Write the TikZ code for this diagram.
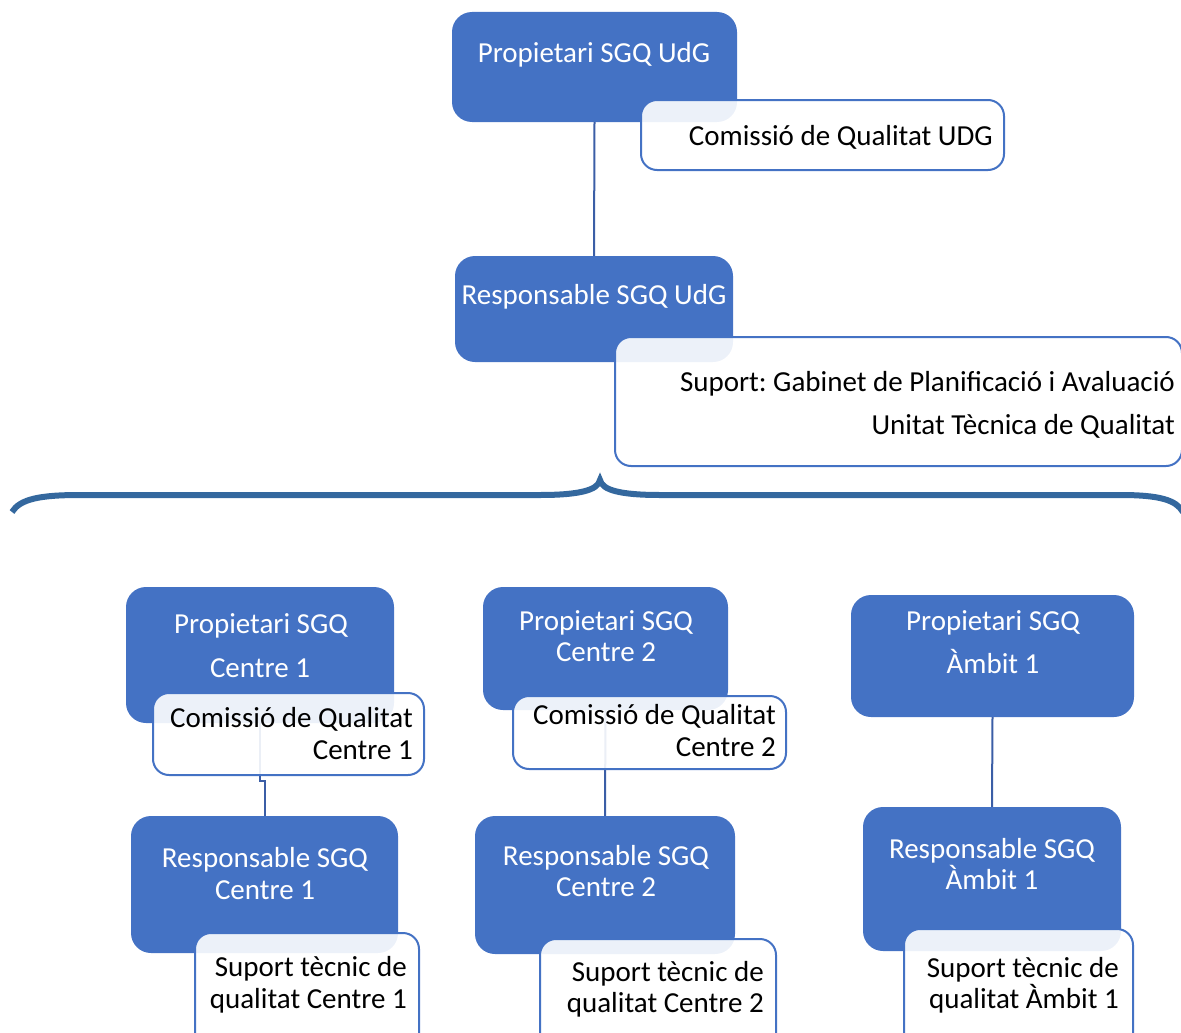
\documentclass[tikz,border=0pt]{standalone}
\usepackage{fontspec}
\setmainfont{Carlito}
\frenchspacing
\definecolor{sgqblue}{HTML}{4472C4}
\definecolor{connblue}{HTML}{3B5EA6}
\definecolor{braceblue}{HTML}{34689E}
\tikzset{
  ownerbox/.style={fill=sgqblue, rounded corners=20, inner sep=0},
  supbox/.style={draw=sgqblue, line width=2, fill=white, fill opacity=0.9, rounded corners=16, inner sep=0},
  wtext/.style={text=white, font=\fontsize{29}{35}\selectfont, inner sep=0, anchor=base},
  btext/.style={text=black, font=\fontsize{29}{35}\selectfont, inner sep=0, anchor=base east},
  conn/.style={draw=connblue, line width=2},
}
\begin{document}
\begin{tikzpicture}[x=1pt,y=-1pt]
\useasboundingbox (0,0) rectangle (1181,1033);

% blue boxes
\node[ownerbox, minimum width=285, minimum height=110] (propudg) at (594.5,67) {};
\node[ownerbox, minimum width=278, minimum height=106] (respudg) at (594,309) {};
\node[ownerbox, minimum width=268, minimum height=136] (prop1) at (260,655) {};
\node[ownerbox, minimum width=267, minimum height=137] (resp1) at (264.5,884.5) {};
\node[ownerbox, minimum width=245, minimum height=123] (prop2) at (605.5,648.5) {};
\node[ownerbox, minimum width=260, minimum height=138] (resp2) at (605,885) {};
\node[ownerbox, minimum width=283, minimum height=122] (propamb) at (992.5,656) {};
\node[ownerbox, minimum width=258, minimum height=144] (respamb) at (992,879) {};

% connectors
\draw[conn] (propudg.south) -- (respudg.north);
\draw[conn] (prop1.south) -- ++(0,58) -| (resp1.north);
\draw[conn] (prop2.south) -- (resp2.north);
\draw[conn] (propamb.south) -- (respamb.north);

% brace
\draw[braceblue, line width=6] (12,512) .. controls (20,499) and (40,495) .. (80,495) -- (540,495)
  .. controls (580,495) and (598,490) .. (600,480) .. controls (602,490) and (620,495) .. (660,495)
  -- (1120,495) .. controls (1160,495) and (1176,500) .. (1183,512);

% white boxes
\node[supbox, minimum width=363, minimum height=70] (comudg) at (822.5,135) {};
\node[supbox, minimum width=567, minimum height=129] (supudg) at (898.5,401.5) {};
\node[supbox, minimum width=271, minimum height=82] (com1) at (288.5,734) {};
\node[supbox, minimum width=224, minimum height=117] (sup1) at (307,991.5) {};
\node[supbox, minimum width=273, minimum height=73] (com2) at (649.5,732.5) {};
\node[supbox, minimum width=236, minimum height=111] (sup2) at (658,994.5) {};
\node[supbox, minimum width=229, minimum height=121] (supamb) at (1018.5,989.5) {};

% texts
\node[wtext] (propudg-a) at (594,63) {Propietari SGQ UdG};
\node[btext] (comudg-a) at (993,145) {Comissió de Qualitat UDG};
\node[wtext] (respudg-a) at (594,304) {Responsable SGQ UdG};
\node[btext] (supudg-a) at (1175,391) {Suport: Gabinet de Planificació i Avaluació};
\node[btext] (supudg-b) at (1175,434) {Unitat Tècnica de Qualitat};

\node[wtext] (prop1-a) at (261,633) {Propietari SGQ};
\node[wtext] (prop1-b) at (260,677) {Centre 1};
\node[btext] (com1-a) at (413,727) {Comissió de Qualitat};
\node[btext] (com1-b) at (413,759) {Centre 1};
\node[wtext] (resp1-a) at (265,867) {Responsable SGQ};
\node[wtext] (resp1-b) at (265,899) {Centre 1};
\node[btext] (sup1-a) at (407,976) {Suport tècnic de};
\node[btext] (sup1-b) at (407,1008) {qualitat Centre 1};

\node[wtext] (prop2-a) at (606,630) {Propietari SGQ};
\node[wtext] (prop2-b) at (606,661) {Centre 2};
\node[btext] (com2-a) at (776,724) {Comissió de Qualitat};
\node[btext] (com2-b) at (776,756) {Centre 2};
\node[wtext] (resp2-a) at (606,865) {Responsable SGQ};
\node[wtext] (resp2-b) at (606,896) {Centre 2};
\node[btext] (sup2-a) at (764,981) {Suport tècnic de};
\node[btext] (sup2-b) at (764,1012) {qualitat Centre 2};

\node[wtext] (propamb-a) at (993,630) {Propietari SGQ};
\node[wtext] (propamb-b) at (993,673) {Àmbit 1};
\node[wtext] (respamb-a) at (992,858) {Responsable SGQ};
\node[wtext] (respamb-b) at (992,889) {Àmbit 1};
\node[btext] (supamb-a) at (1119,977) {Suport tècnic de};
\node[btext] (supamb-b) at (1119,1008) {qualitat Àmbit 1};

\end{tikzpicture}
\end{document}
